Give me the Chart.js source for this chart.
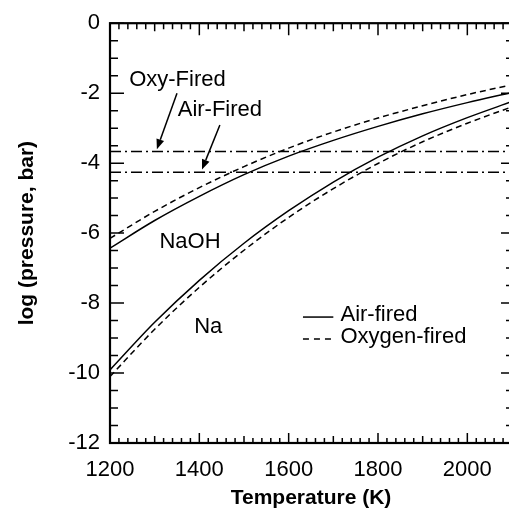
<!DOCTYPE html>
<html>
<head>
<meta charset="utf-8">
<title>Na / NaOH vapour pressure</title>
<script src="https://cdn.jsdelivr.net/npm/chart.js@4.4.1/dist/chart.umd.min.js"></script>
<style>
  html, body { margin: 0; padding: 0; background: #fff; overflow: hidden; }
  canvas { display: block; }
</style>
</head>
<body>
<canvas id="grafico" width="514" height="520"></canvas>
<script>
// Temperature grid (K)
const temperatures = [1200, 1300, 1400, 1500, 1600, 1700, 1800, 1900, 2000, 2100];

// log10 of partial pressure (bar)
const naohAir = [-6.43, -5.64, -4.95, -4.33, -3.80, -3.35, -2.95, -2.59, -2.27, -1.98];
const naohOxy = [-6.15, -5.38, -4.70, -4.10, -3.57, -3.11, -2.71, -2.36, -2.04, -1.76];
const naAir   = [-9.91, -8.55, -7.35, -6.29, -5.36, -4.54, -3.83, -3.22, -2.70, -2.24];
const naOxy   = [-10.10, -8.75, -7.55, -6.49, -5.55, -4.73, -4.01, -3.39, -2.86, -2.39];

// Reference levels for the two firing modes
const oxyLevel = -3.67;
const airLevel = -4.26;

// Axis ranges and labelled ticks
const xRange = [1200, 2100];
const yRange = [-12, 0];
const xTicks = [1200, 1400, 1600, 1800, 2000];
const yTicks = [-12, -10, -8, -6, -4, -2, 0];

const FONT = '"Liberation Sans", Arial, sans-serif';

function serie(values) {
  return temperatures.map((t, i) => ({ x: t, y: values[i] }));
}

function flatLine(level) {
  return xRange.map(t => ({ x: t, y: level }));
}

// Ticks pointing into the plot on all four sides, plus the frame
const innerTicks = {
  id: 'innerTicks',
  afterDatasetsDraw(chart) {
    const { ctx, chartArea: { left, right, top, bottom }, scales: { x, y } } = chart;
    ctx.save();
    ctx.strokeStyle = '#000';
    ctx.lineWidth = 1.5;
    ctx.beginPath();
    // x: every 20 K, longer at 100 and 200
    for (let t = xRange[0]; t <= xRange[1]; t += 20) {
      const px = x.getPixelForValue(t);
      const major = t % 200 === 0, mid = t % 100 === 0;
      const lb = major ? 10 : mid ? 7 : 5;
      const lt = major ? 12 : mid ? 8 : 6;
      ctx.moveTo(px, bottom); ctx.lineTo(px, bottom - lb);
      ctx.moveTo(px, top); ctx.lineTo(px, top + lt);
    }
    // y: every 0.5, longer at labelled values
    for (let k = yRange[0] * 2; k <= yRange[1] * 2; k++) {
      const py = y.getPixelForValue(k / 2);
      const major = k % 4 === 0;
      ctx.moveTo(left, py); ctx.lineTo(left + (major ? 14 : 8), py);
      ctx.moveTo(right, py); ctx.lineTo(right - (major ? 11 : 6), py);
    }
    ctx.stroke();
    ctx.lineWidth = 2.2;
    ctx.strokeRect(left, top, right - left, bottom - top);
    ctx.restore();
  }
};

// Text labels, arrows and the legend inside the plot
const labels = {
  id: 'labels',
  afterDraw(chart) {
    const { ctx, scales: { x, y } } = chart;
    const X = v => x.getPixelForValue(v);
    const Y = v => y.getPixelForValue(v);
    ctx.save();
    ctx.fillStyle = '#000';
    ctx.strokeStyle = '#000';
    ctx.textBaseline = 'middle';
    ctx.textAlign = 'center';
    ctx.font = '22px ' + FONT;
    ctx.fillText('Oxy-Fired', X(1351), Y(-1.63));
    ctx.fillText('Air-Fired', X(1446), Y(-2.49));
    ctx.fillText('NaOH', X(1379), Y(-6.26));
    ctx.fillText('Na', X(1420), Y(-8.69));

    arrow(ctx, X(1350), Y(-2.0), X(1305), Y(-3.6));
    arrow(ctx, X(1446), Y(-2.91), X(1406), Y(-4.18));

    // legend
    ctx.lineWidth = 1.5;
    ctx.beginPath();
    ctx.moveTo(X(1632), Y(-8.4)); ctx.lineTo(X(1700), Y(-8.4));
    ctx.stroke();
    ctx.setLineDash([6, 5]);
    ctx.beginPath();
    ctx.moveTo(X(1632), Y(-9.03)); ctx.lineTo(X(1700), Y(-9.03));
    ctx.stroke();
    ctx.setLineDash([]);
    ctx.textAlign = 'left';
    ctx.fillText('Air-fired', X(1716), Y(-8.34));
    ctx.fillText('Oxygen-fired', X(1716), Y(-8.97));
    ctx.restore();
  }
};

function arrow(ctx, x0, y0, x1, y1) {
  const ang = Math.atan2(y1 - y0, x1 - x0);
  const len = 10, half = 4;
  const bx = x1 - Math.cos(ang) * len, by = y1 - Math.sin(ang) * len;
  ctx.lineWidth = 1.5;
  ctx.beginPath();
  ctx.moveTo(x0, y0);
  ctx.lineTo(bx, by);
  ctx.stroke();
  ctx.beginPath();
  ctx.moveTo(x1, y1);
  ctx.lineTo(bx - Math.sin(ang) * half, by + Math.cos(ang) * half);
  ctx.lineTo(bx + Math.sin(ang) * half, by - Math.cos(ang) * half);
  ctx.closePath();
  ctx.fill();
}

const curveStyle = { borderColor: '#000', borderWidth: 1.5, pointRadius: 0, tension: 0.4, cubicInterpolationMode: 'monotone', fill: false };

new Chart(document.getElementById('grafico'), {
  type: 'line',
  data: {
    datasets: [
      { label: 'NaOH air', data: serie(naohAir), ...curveStyle },
      { label: 'NaOH oxy', data: serie(naohOxy), ...curveStyle, borderDash: [6, 4] },
      { label: 'Na air', data: serie(naAir), ...curveStyle },
      { label: 'Na oxy', data: serie(naOxy), ...curveStyle, borderDash: [6, 4] },
      { label: 'Oxy level', data: flatLine(oxyLevel), ...curveStyle, borderDash: [11, 4, 2, 4] },
      { label: 'Air level', data: flatLine(airLevel), ...curveStyle, borderDash: [11, 4, 2, 4] }
    ]
  },
  options: {
    responsive: false,
    animation: false,
    layout: { padding: { top: 23, right: 2, left: 0, bottom: 0 } },
    plugins: { legend: { display: false }, tooltip: { enabled: false } },
    scales: {
      x: {
        type: 'linear',
        min: xRange[0],
        max: xRange[1],
        afterBuildTicks: s => { s.ticks = xTicks.map(v => ({ value: v })); },
        afterFit: s => { s.height = 77; },
        grid: { display: false, drawTicks: false },
        border: { display: false },
        ticks: {
          padding: 14,
          color: '#000',
          font: { family: FONT, size: 22 },
          maxRotation: 0,
          autoSkip: false,
          callback: v => String(v)
        },
        title: {
          display: true,
          text: 'Temperature (K)',
          color: '#000',
          font: { family: FONT, size: 21, weight: 'bold' },
          padding: { bottom: 9 }
        }
      },
      y: {
        min: yRange[0],
        max: yRange[1],
        afterBuildTicks: s => { s.ticks = yTicks.map(v => ({ value: v })); },
        afterFit: s => { s.width = 110; },
        grid: { display: false, drawTicks: false },
        border: { display: false },
        ticks: {
          padding: 10,
          color: '#000',
          font: { family: FONT, size: 22 },
          autoSkip: false,
          callback: v => String(v)
        },
        title: {
          display: true,
          text: 'log (pressure, bar)',
          color: '#000',
          font: { family: FONT, size: 21, weight: 'bold' },
          padding: { top: 15 }
        }
      }
    }
  },
  plugins: [innerTicks, labels]
});
</script>
</body>
</html>
